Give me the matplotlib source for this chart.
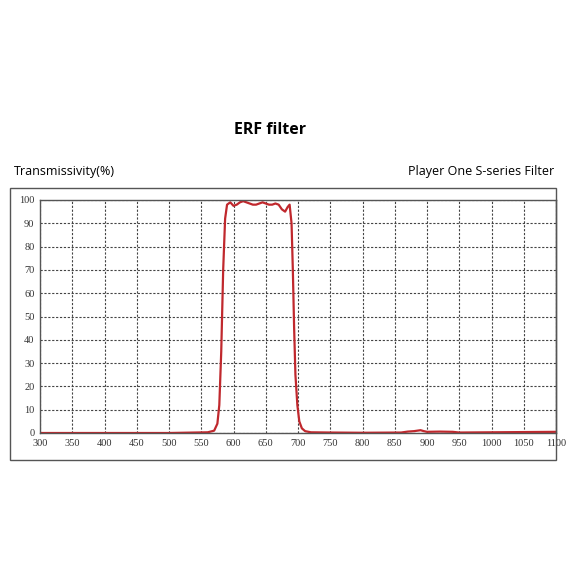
import matplotlib
matplotlib.use("Agg")
import matplotlib.pyplot as plt
from matplotlib.patches import Rectangle

wl = [300, 400, 500, 540, 560, 570, 575, 578, 581, 584, 587, 590, 595, 600, 605, 610, 615, 620, 625, 630, 635, 640, 645, 650, 655, 660, 665, 670, 675, 680, 684, 687, 690, 692, 694, 696, 699, 702, 706, 711, 720, 750, 800, 860, 870, 880, 890, 895, 900, 920, 940, 950, 1000, 1050, 1100]
tr = [0, 0, 0, 0.2, 0.3, 1, 4, 12, 35, 70, 92, 98, 99, 97.5, 98, 99, 99.5, 99, 98.5, 98, 98, 98.5, 99, 98.5, 98, 98, 98.5, 98, 96, 95, 97, 98, 90, 70, 45, 25, 12, 5, 2, 0.8, 0.3, 0.2, 0.1, 0.2, 0.6, 0.8, 1.2, 0.8, 0.5, 0.6, 0.5, 0.2, 0.3, 0.4, 0.5]
xticks = list(range(300, 1101, 50))
yticks = list(range(0, 101, 10))

fig = plt.figure(figsize=(5.79, 5.79), dpi=100)
ax = fig.add_axes([40/579, 1-433/579, (556-40)/579, (433-200)/579])
ax.plot(wl, tr, color="#c0282d", lw=1.6)
ax.set_xlim(300, 1100); ax.set_ylim(0, 100)
ax.set_xticks(xticks); ax.set_yticks(yticks)
ax.tick_params(length=0, labelsize=7.5, colors="#333333", pad=4)
for l in ax.get_xticklabels() + ax.get_yticklabels():
    l.set_family("Liberation Serif")
ax.grid(True, color="#444444", ls=(0, (2, 1.5)), lw=0.8)
for s in ax.spines.values():
    s.set_color("#555555"); s.set_linewidth(1)
fig.patches.append(Rectangle((10/579, 1-460/579), 546/579, 272/579, transform=fig.transFigure,
                             fill=False, ec="#555555", lw=1))
fig.text(270/579, 1-130/579, "ERF filter", fontsize=11.5, fontweight="bold", ha="center", va="center", family="Open Sans")
fig.text(14/579, 1-172/579, "Transmissivity(%)", fontsize=9, ha="left", va="center", family="Open Sans")
fig.text(554/579, 1-172/579, "Player One S-series Filter", fontsize=9, ha="right", va="center", family="Open Sans")
fig.savefig("out.png", dpi=100)
